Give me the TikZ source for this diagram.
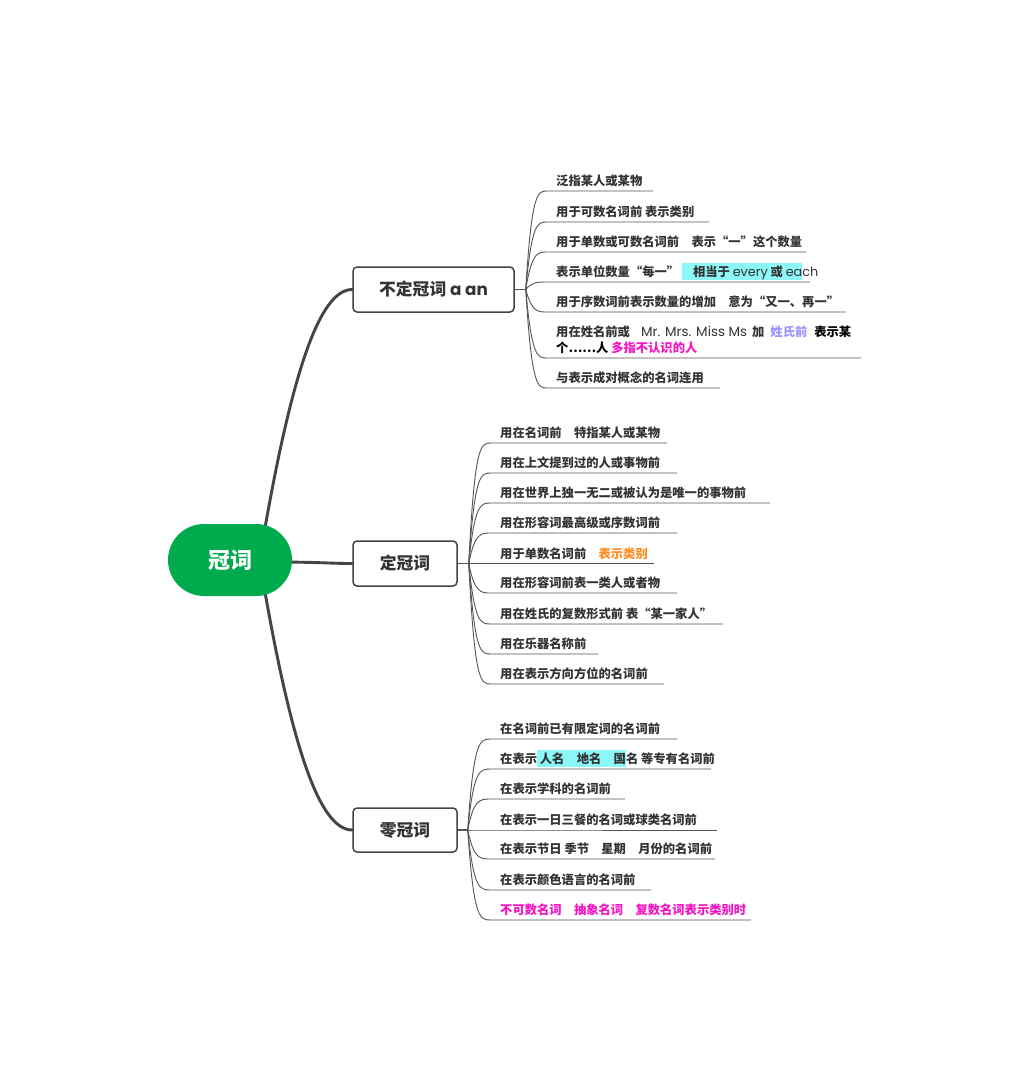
\documentclass[tikz,border=0pt]{standalone}
\usepackage{fontspec}
\setmainfont{Noto Sans CJK SC}
\newfontfamily\latin{Poppins}
\usetikzlibrary{calc,backgrounds}
\definecolor{txt}{HTML}{333333}
\definecolor{linedark}{HTML}{444444}
\definecolor{leafgray}{HTML}{555555}
\definecolor{rootgreen}{HTML}{00AB4E}
\definecolor{ora}{HTML}{FF8C22}
\definecolor{mag}{HTML}{F514C3}
\definecolor{lav}{HTML}{9D94FF}
\definecolor{hlc}{HTML}{8CF8F8}
\newcommand{\hl}[1]{{\setlength{\fboxsep}{0pt}\colorbox{hlc}{\rule[-3.5pt]{0pt}{17pt}#1}}}
\newcommand{\g}{\hspace{1em}}
\newcommand{\lt}[1]{{\latin\mdseries\fontsize{12.8}{16}\selectfont #1}}
\newcommand{\myleaf}[6]{%
  \coordinate (#1s) at (#3-9,#4);
  \coordinate (#1e) at (#5,#4);
  \node[leaf] (#1) at (#3,#4-5.5) {#6};
  \draw[leafline] (#2) .. controls ($(#2 |- #1s)+(6,0)$) and ($(#2 |- #1s)+(12,0)$) .. (#1s) -- (#1e);
}
\begin{document}
\begin{tikzpicture}[x=1pt,y=-1pt,
  rootbox/.style={draw=none,fill=rootgreen,rounded corners=36pt,minimum width=124pt,minimum height=72pt,inner sep=0pt,text=white,font=\fontsize{22}{25}\selectfont\bfseries},
  branchbox/.style={draw=linedark,line width=1.5pt,fill=white,rounded corners=4pt,minimum height=45pt,inner sep=0pt,text=txt,font=\fontsize{16.8}{20}\selectfont\bfseries},
  leaf/.style={anchor=base west,inner sep=0pt,text=txt,font=\fontsize{12.3}{16}\selectfont\bfseries},
  leafline/.style={draw=leafgray,line width=0.9pt},
  hubline/.style={draw=leafgray,line width=1.3pt},
  mainline/.style={draw=linedark,line width=2.9pt,line cap=round}]
\useasboundingbox (0,0) rectangle (1031,1091);

\node[rootbox] (root) at (230,560) {冠词};
\node[branchbox,minimum width=161pt] (b1) at (433.5,289.5) {不定冠词 {\latin a an}};
\node[branchbox,minimum width=104pt] (b2) at (405,563.5) {定冠词};
\node[branchbox,minimum width=104pt,minimum height=44pt] (b3) at (405,830) {零冠词};

\begin{scope}[on background layer]
\fill[white] (0,0) rectangle (1031,1091);
\draw[mainline] ($(root.center)+(32,-15)$) .. controls (292,370) and (320,289.5) .. (b1.west);
\draw[mainline] ($(root.center)+(40,2)$) .. controls (320,562) and (330,563.5) .. (b2.west);
\draw[mainline] ($(root.center)+(32,15)$) .. controls (292,750) and (320,830) .. (b3.west);
\end{scope}

\coordinate (h1) at ($(b1.east)+(11,0)$);
\coordinate (h2) at ($(b2.east)+(11,0)$);
\coordinate (h3) at ($(b3.east)+(10,0)$);
\draw[hubline] (b1.east) -- (h1);
\draw[hubline] (b2.east) -- (h2);
\draw[hubline] (b3.east) -- (h3);

% branch 1
\myleaf{a1}{h1}{556}{191}{653}{泛指某人或某物}
\myleaf{a2}{h1}{556}{222}{709}{用于可数名词前 表示类别}
\myleaf{a3}{h1}{556}{252}{806}{用于单数或可数名词前\g 表示“一”这个数量}
\myleaf{a4}{h1}{556}{282}{810}{表示单位数量“每一” \hl{\hspace{0.9em}相当于 \lt{every} 或 \lt{ea}}\lt{ch}}
\myleaf{a5}{h1}{556}{312}{846}{用于序数词前表示数量的增加\g 意为“又一、再一”}
\myleaf{a6}{h1}{556}{358}{861}{{\color{black}个……人} {\color{mag}多指不认识的人}}
\node[leaf] (a6top) at (556,358-5.5-16) {用在姓名前或\hspace{11pt}{\latin\mdseries\fontsize{13.4}{16}\selectfont Mr. Mrs. Miss Ms}\hspace{5pt}加\hspace{6pt}{\color{lav}姓氏前}\hspace{7pt}{\color{black}表示某}};
\myleaf{a7}{h1}{556}{388}{720}{与表示成对概念的名词连用}

% branch 2
\myleaf{c1}{h2}{500}{443}{667}{用在名词前\g 特指某人或某物}
\myleaf{c2}{h2}{500}{473}{677}{用在上文提到过的人或事物前}
\myleaf{c3}{h2}{500}{503}{770}{用在世界上独一无二或被认为是唯一的事物前}
\myleaf{c4}{h2}{500}{533}{677}{用在形容词最高级或序数词前}
\myleaf{c5}{h2}{500}{563.5}{654}{用于单数名词前\g {\color{ora}表示类别}}
\myleaf{c6}{h2}{500}{593}{677}{用在形容词前表一类人或者物}
\myleaf{c7}{h2}{500}{624}{723}{用在姓氏的复数形式前 表“某一家人”}
\myleaf{c8}{h2}{500}{654}{598}{用在乐器名称前}
\myleaf{c9}{h2}{500}{684}{664}{用在表示方向方位的名词前}

% branch 3
\myleaf{d1}{h3}{500}{739}{677}{在名词前已有限定词的名词前}
\myleaf{d2}{h3}{500}{769}{711}{在表示\hl{ 人名\g 地名\g 国}名 等专有名词前}
\myleaf{d3}{h3}{500}{799}{625}{在表示学科的名词前}
\myleaf{d4}{h3}{500}{830}{717}{在表示一日三餐的名词或球类名词前}
\myleaf{d5}{h3}{500}{859}{715}{在表示节日 季节\g 星期\g 月份的名词前}
\myleaf{d6}{h3}{500}{890}{651}{在表示颜色语言的名词前}
\myleaf{d7}{h3}{500}{920}{751}{{\color{mag}不可数名词\g 抽象名词\g 复数名词表示类别时}}
\end{tikzpicture}
\end{document}
